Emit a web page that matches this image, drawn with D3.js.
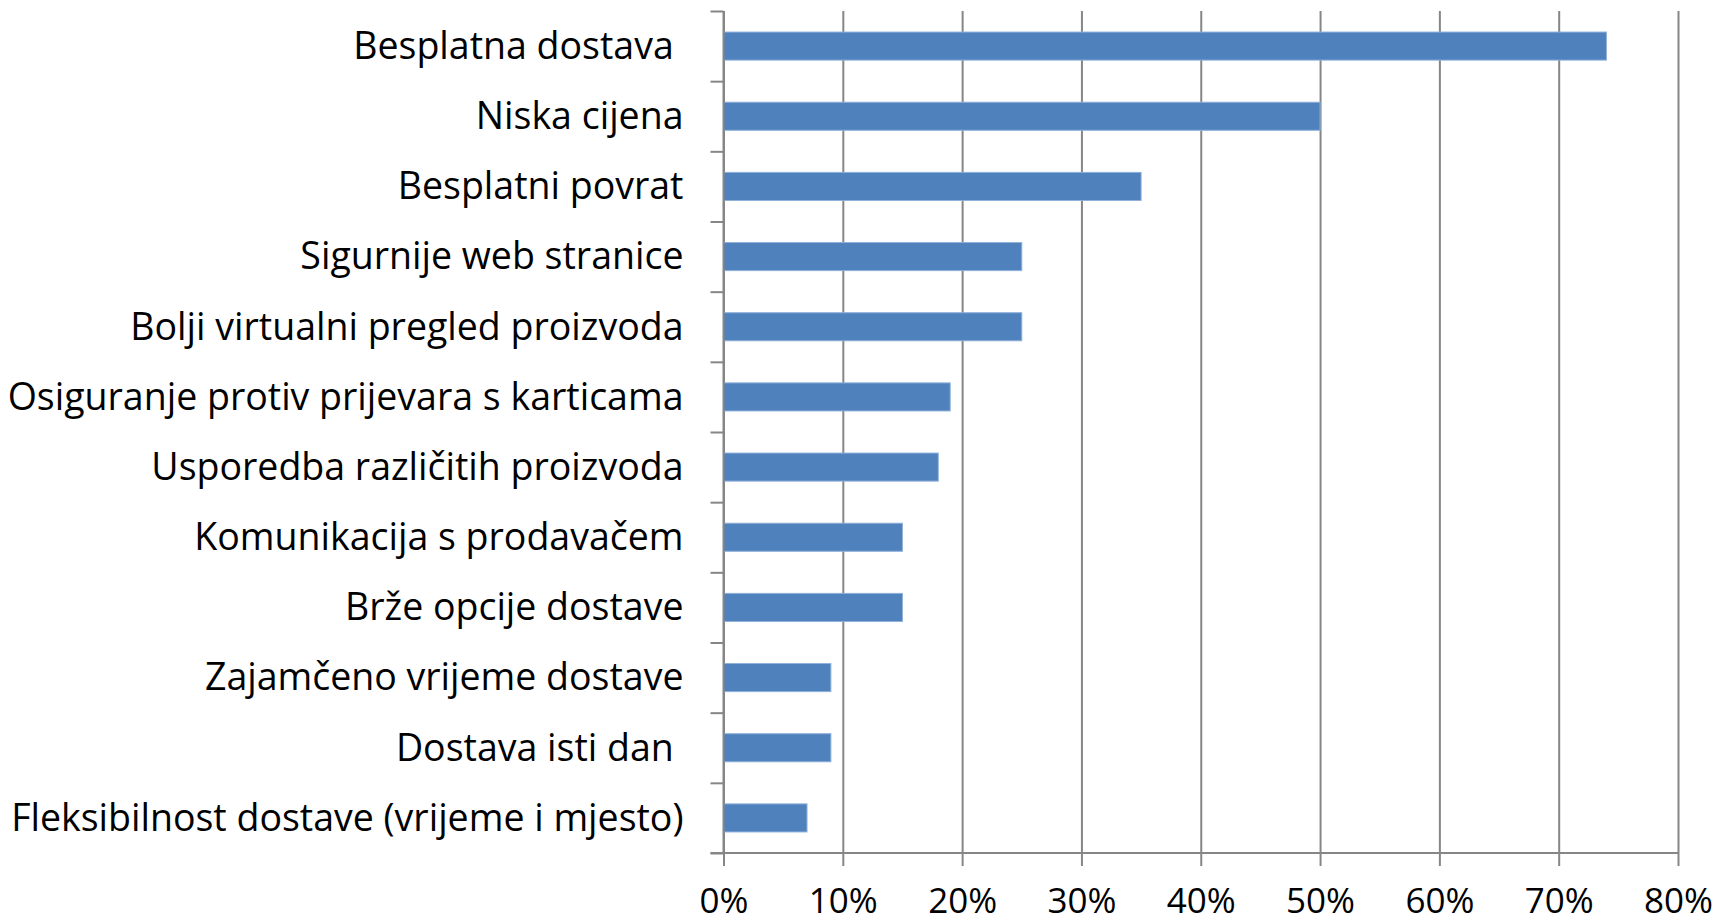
<!DOCTYPE html>
<html>
<head>
<meta charset="utf-8">
<script src="https://cdn.jsdelivr.net/npm/d3@7"></script>
<style>
  body { margin: 0; background: #fff; }
  text { font-family: "Open Sans", sans-serif; fill: #000; white-space: pre; }
  .grid line, .ticks line, .yticks line { stroke: #868686; stroke-width: 2; }
  .grid .domain, .yticks .domain, .labels .domain { display: none; }
  .ticks .domain { stroke: #868686; stroke-width: 2; }
</style>
</head>
<body>
<div id="chart"></div>
<script>

// categories top to bottom
var categories = [
  "Besplatna dostava ",
  "Niska cijena",
  "Besplatni povrat",
  "Sigurnije web stranice",
  "Bolji virtualni pregled proizvoda",
  "Osiguranje protiv prijevara s karticama",
  "Usporedba različitih proizvoda",
  "Komunikacija s prodavačem",
  "Brže opcije dostave",
  "Zajamčeno vrijeme dostave",
  "Dostava isti dan ",
  "Fleksibilnost dostave (vrijeme i mjesto)"
];

var values = [0.74, 0.50, 0.35, 0.25, 0.25, 0.19, 0.18, 0.15, 0.15, 0.09, 0.09, 0.07];

var xTicks = [0, 0.1, 0.2, 0.3, 0.4, 0.5, 0.6, 0.7, 0.8];

var width = 1721, height = 924;
var margin = { top: 11, right: 43, bottom: 71, left: 723.5 };
var innerW = width - margin.left - margin.right;
var innerH = height - margin.top - margin.bottom;

var svg = d3.select("#chart").append("svg")
  .attr("width", width)
  .attr("height", height)
  .append("g")
  .attr("transform", "translate(" + margin.left + "," + margin.top + ")");

var x = d3.scaleLinear()
  .domain([0, 0.8])
  .range([0, innerW]);

var y = d3.scaleBand()
  .domain(categories)
  .range([0, innerH])
  .paddingInner(0.6)
  .paddingOuter(0.3);

// band boundaries for the left tick marks
var yEdge = d3.scaleLinear()
  .domain([0, categories.length])
  .range([0, innerH]);

// vertical gridlines
svg.append("g")
  .attr("class", "grid")
  .attr("transform", "translate(0," + innerH + ")")
  .call(d3.axisBottom(x).tickValues(xTicks).tickSize(-innerH).tickFormat(""));

// bars
svg.selectAll(".bar")
  .data(values)
  .enter().append("rect")
  .attr("class", "bar")
  .attr("x", x(0))
  .attr("y", function(d, i){ return y(categories[i]); })
  .attr("width", function(d){ return x(d) - x(0); })
  .attr("height", y.bandwidth())
  .attr("fill", "#4f81bd")
  .attr("stroke", "#8fb0d8")
  .attr("stroke-width", 1);

// left axis line + tick marks
svg.append("g")
  .attr("class", "yticks")
  .call(d3.axisLeft(yEdge).tickValues(d3.range(categories.length + 1)).tickSize(13).tickFormat(""));

svg.append("line")
  .attr("x1", 0).attr("x2", 0)
  .attr("y1", 0).attr("y2", innerH)
  .attr("stroke", "#868686")
  .attr("stroke-width", 2);

// category labels
var yAxis = svg.append("g")
  .attr("class", "labels")
  .call(d3.axisLeft(y).tickSize(0).tickPadding(40));
yAxis.selectAll("text")
  .attr("font-size", 37.5)
  .attr("dy", "0.34em")
  .style("font-family", "'Open Sans', sans-serif");

// bottom axis
var xAxis = svg.append("g")
  .attr("class", "ticks")
  .attr("transform", "translate(0," + innerH + ")")
  .call(d3.axisBottom(x).tickValues(xTicks).tickSize(13).tickPadding(22).tickFormat(d3.format(".0%")));
xAxis.select(".domain")
  .attr("d", "M-13,0H" + innerW);
xAxis.selectAll("text")
  .attr("font-size", 35)
  .style("font-family", "'Open Sans', sans-serif");

</script>
</body>
</html>
